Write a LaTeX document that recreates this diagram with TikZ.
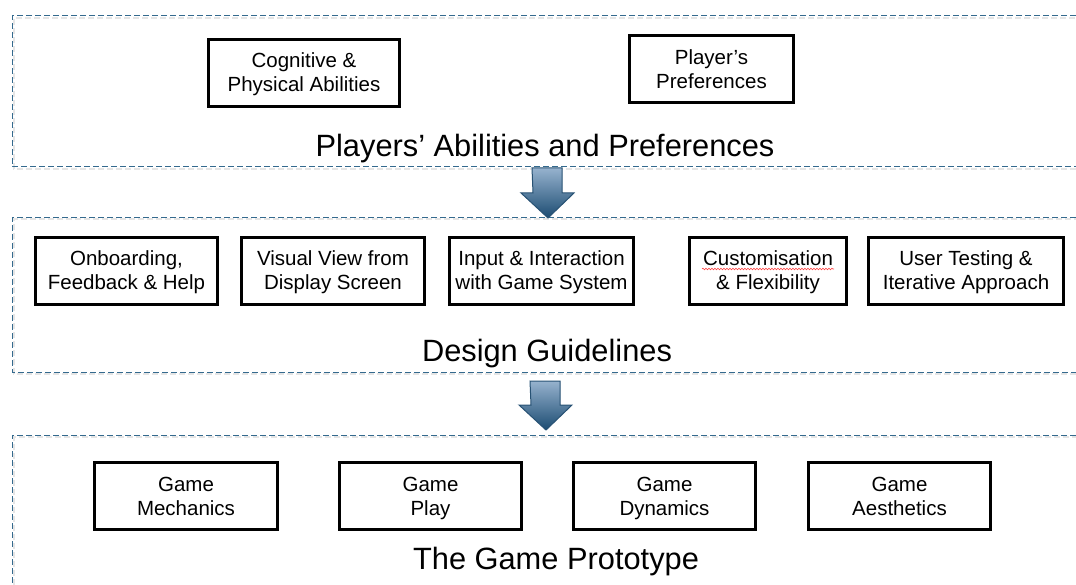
\documentclass[tikz,border=0pt]{standalone}
\usepackage{fontspec}
\setmainfont{Liberation Sans}
\usetikzlibrary{positioning,decorations.pathmorphing}
\definecolor{dashblue}{RGB}{52,106,142}
\definecolor{arrowtop}{RGB}{150,178,206}
\definecolor{arrowbot}{RGB}{28,76,114}
\definecolor{arrowline}{RGB}{40,82,116}

\begin{document}
\begin{tikzpicture}[x=1pt,y=-1pt]
\tikzstyle{every node}+=[inner sep=0pt]
\tikzstyle{box}=[draw=black, line width=3pt, align=center, minimum height=67pt, font=\fontsize{20.5}{24}\selectfont,
  text height=42pt, text depth=4pt]
\tikzstyle{title}=[anchor=base, font=\fontsize{30.8}{36}\selectfont]
\tikzstyle{panel}=[draw=dashblue, line width=1pt, dash pattern=on 6pt off 3pt]
\tikzstyle{panelshade}=[draw=black!10, line width=2pt, dash pattern=on 6pt off 3pt]
\tikzstyle{blockarrow}=[draw=arrowline, line width=1pt, top color=arrowtop, bottom color=arrowbot, line join=miter]
\useasboundingbox (0,0) rectangle (1076,585);
% panels
\draw [panelshade] (1076,169) -- (14,169) -- (14,18) -- (1076,18);
\draw [panelshade] (1076,374) -- (14,374) -- (14,219) -- (1076,219);
\draw [panelshade] (14,585) -- (14,437) -- (1076,437);
\draw [panel] (1076,16) -- (12,16) -- (12,167) -- (1076,167);
\draw [panel] (1076,218) -- (12,218) -- (12,372) -- (1076,372);
\draw [panel] (1076,435) -- (12,435) -- (12,585);
% players
\node [box, minimum width=191pt] (cog) at (304,73) {Cognitive \&\\Physical Abilities};
\node [box, minimum width=164pt] (pref) at (711.5,69.5) {Player’s\\Preferences};
\node [title] (t1) at (545,157) {Players’ Abilities and Preferences};
% guidelines
\node [box, minimum width=182pt] (onb) at (126.5,271) {Onboarding,\\Feedback \& Help};
\node [box, minimum width=183pt] (vis) at (333,271) {Visual View from\\Display Screen};
\node [box, minimum width=184pt] (inp) at (541.5,271) {Input \& Interaction\\with Game System};
\node [box, minimum width=157pt] (cus) at (768,271) {Customisation\\\& Flexibility};
\node [box, minimum width=195pt] (usr) at (966,271) {User Testing \&\\Iterative Approach};
\node [title] (t2) at (547,361) {Design Guidelines};
\draw [red!75, line width=0.6pt, decorate, decoration={snake, amplitude=0.8pt, segment length=3pt}] (702,269) -- (834,269);
% prototype
\node [box, minimum width=183pt] (mech) at (186,496) {Game\\Mechanics};
\node [box, minimum width=182pt] (play) at (430.5,496) {Game\\Play};
\node [box, minimum width=182pt] (dyn) at (664.5,496) {Game\\Dynamics};
\node [box, minimum width=182pt] (aes) at (899.5,496) {Game\\Aesthetics};
\node [title] (t3) at (556,569) {The Game Prototype};
% arrows
\coordinate (a1) at (547,168);
\coordinate (h1) at (548,218);
\draw [blockarrow] (a1) ++(-15,0) -- ++(30,0) -- ++(0,25) -- ++(12,0) -- (h1) -- ++(-27,-25) -- ++(12,0) -- cycle;
\coordinate (a2) at (545,381);
\coordinate (h2) at (546,430);
\draw [blockarrow] (a2) ++(-15,0) -- ++(30,0) -- ++(0,24) -- ++(12,0) -- (h2) -- ++(-27,-25) -- ++(12,0) -- cycle;
\end{tikzpicture}
\end{document}
